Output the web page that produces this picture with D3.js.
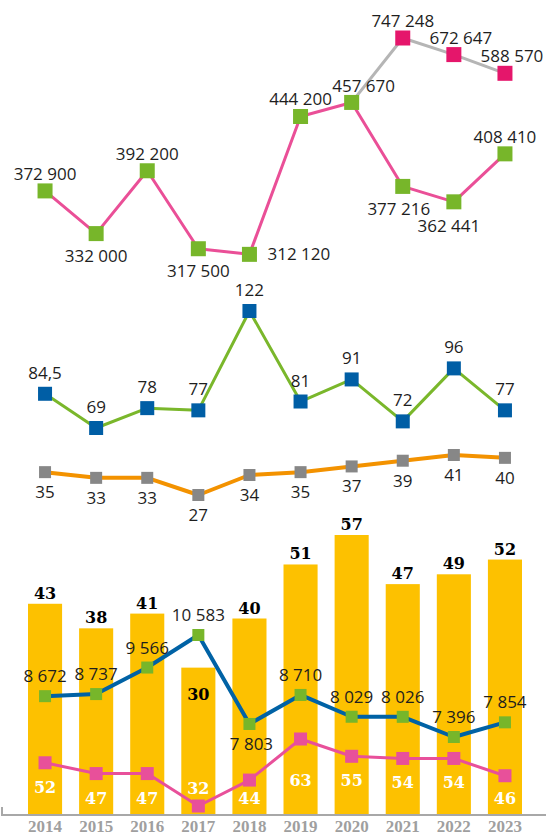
<!DOCTYPE html>
<html>
<head>
<meta charset="utf-8">
<script src="https://cdn.jsdelivr.net/npm/d3@7"></script>
<style>
  body { margin: 0; background: #fff; }
  svg { display: block; }
  .num { font-family: "Open Sans", sans-serif; font-size: 17px; fill: #1e1e1e; }
  .bold { font-family: "DejaVu Serif", serif; font-weight: bold; font-size: 16px; }
  .x-axis text { font-family: "Liberation Serif", serif; font-weight: bold; font-size: 17px; fill: #9f9f9f; }
</style>
</head>
<body>
<div id="chart"></div>
<script>
// years on the x axis
var years = ["2014", "2015", "2016", "2017", "2018", "2019", "2020", "2021", "2022", "2023"];

// top panel
var topPink = [372900, 332000, 392200, 317500, 312120, 444200, 457670, 377216, 362441, 408410];
var topGrayYears = ["2020", "2021", "2022", "2023"];
var topGray = [457670, 747248, 672647, 588570];

// middle panel
var midBlue = [84.5, 69, 78, 77, 122, 81, 91, 72, 96, 77];
var midOrange = [35, 33, 33, 27, 34, 35, 37, 39, 41, 40];

// bottom panel
var bars = [43, 38, 41, 30, 40, 51, 57, 47, 49, 52];
var botBlue = [8672, 8737, 9566, 10583, 7803, 8710, 8029, 8026, 7396, 7854];
var botPink = [52, 47, 47, 32, 44, 63, 55, 54, 54, 46];

var width = 546, height = 838;

var locale = d3.formatLocale({ decimal: ",", thousands: " ", grouping: [3], currency: ["", ""] });
var fmt = locale.format(",");

var svg = d3.select("#chart").append("svg")
    .attr("width", width)
    .attr("height", height);

// shared x scale, bars take the band, points sit in the middle
var x = d3.scaleBand()
    .domain(years)
    .range([28, 522])
    .paddingInner(0.333)
    .paddingOuter(0);
function cx(yr) { return x(yr) + x.bandwidth() / 2; }

// y scales for each series
var yTopPink = d3.scaleLinear().domain([300000, 460000]).range([267, 100]);
var yTopGray = d3.scaleLinear().domain([457670, 747248]).range([yTopPink(457670), 38]);
var yMidBlue = d3.scaleLinear().domain([69, 122]).range([428, 311]);
var yMidOrange = d3.scaleLinear().domain([27, 41]).range([495, 455]);
var yBar = d3.scaleLinear().domain([0, 57]).range([815, 535]);
var yBotBlue = d3.scaleLinear().domain([7396, 10583]).range([737, 635]);
var yBotPink = d3.scaleLinear().domain([32, 63]).range([806, 739]);

function pairs(ys, vals) {
    return ys.map(function(yr, i) { return { year: yr, value: vals[i] }; });
}

function drawLine(data, yScale, color, w) {
    var line = d3.line()
        .x(function(d) { return cx(d.year); })
        .y(function(d) { return yScale(d.value); });
    svg.append("path")
        .datum(data)
        .attr("d", line)
        .attr("fill", "none")
        .attr("stroke", color)
        .attr("stroke-width", w)
        .attr("stroke-linejoin", "round");
}

function drawMarkers(data, yScale, color, size) {
    svg.append("g").selectAll("rect")
        .data(data)
        .enter().append("rect")
        .attr("x", function(d) { return cx(d.year) - size / 2; })
        .attr("y", function(d) { return yScale(d.value) - size / 2; })
        .attr("width", size)
        .attr("height", size)
        .attr("fill", color);
}

// place: function(d, i) -> [dx, dy, anchor]
function drawLabels(data, yScale, cls, fill, place) {
    svg.append("g").selectAll("text")
        .data(data)
        .enter().append("text")
        .attr("class", cls)
        .style("fill", fill)
        .attr("x", function(d, i) { return cx(d.year) + place(d, i)[0]; })
        .attr("y", function(d, i) { return yScale(d.value) + place(d, i)[1]; })
        .attr("text-anchor", function(d, i) { return place(d, i)[2] || "middle"; })
        .text(function(d) { return fmt(d.value); });
}

// ---------- bottom panel: bars ----------
var barData = pairs(years, bars);
svg.append("g").selectAll("rect")
    .data(barData)
    .enter().append("rect")
    .attr("x", function(d) { return x(d.year); })
    .attr("y", function(d) { return yBar(d.value); })
    .attr("width", x.bandwidth())
    .attr("height", function(d) { return yBar(0) - yBar(d.value); })
    .attr("fill", "#fdc100");

// bar values, 2017 sits inside because the line crosses its top
drawLabels(barData, yBar, "bold", "#000", function(d) {
    return d.year === "2017" ? [0, 32] : [0, -5];
});

// axis
var xAxis = d3.axisBottom(x).tickSize(0).tickPadding(5);
var axisG = svg.append("g")
    .attr("class", "x-axis")
    .attr("transform", "translate(0," + yBar(0) + ")")
    .call(xAxis);
axisG.select(".domain")
    .attr("d", "M2,-8V0H" + width)
    .attr("stroke", "#a8a8a8")
    .attr("stroke-width", 2);

// blue line with green squares
var botBlueData = pairs(years, botBlue);
drawLine(botBlueData, yBotBlue, "#0062a5", 4);
drawMarkers(botBlueData, yBotBlue, "#77b62a", 12);
drawLabels(botBlueData, yBotBlue, "num", "#1e1e1e", function(d) {
    return d.year === "2018" ? [2, 26] : [0, -14];
});

// pink line with pink squares, white values inside the bars
var botPinkData = pairs(years, botPink);
drawLine(botPinkData, yBotPink, "#e8509a", 3);
drawMarkers(botPinkData, yBotPink, "#e8509a", 13);
drawLabels(botPinkData, yBotPink, "bold", "#fff", function(d) {
    var my = yBotPink(d.value);
    if (my > 800) return [0, -12];
    return [0, Math.max(786, Math.min(804, my + 30)) - my];
});

// ---------- middle panel ----------
var midBlueData = pairs(years, midBlue);
drawLine(midBlueData, yMidBlue, "#7ab72b", 3);
drawMarkers(midBlueData, yMidBlue, "#005ea5", 14);
drawLabels(midBlueData, yMidBlue, "num", "#1e1e1e", function() { return [0, -15]; });

var midOrangeData = pairs(years, midOrange);
drawLine(midOrangeData, yMidOrange, "#f39200", 4);
drawMarkers(midOrangeData, yMidOrange, "#878787", 12);
drawLabels(midOrangeData, yMidOrange, "num", "#1e1e1e", function() { return [0, 26]; });

// ---------- top panel ----------
var topGrayData = pairs(topGrayYears, topGray);
drawLine(topGrayData, yTopGray, "#b5b5b5", 3);
drawMarkers(topGrayData.slice(1), yTopGray, "#e5166b", 15);
var grayDx = { "2021": 0, "2022": 7, "2023": 7 };
drawLabels(topGrayData.slice(1), yTopGray, "num", "#1e1e1e", function(d) {
    return [grayDx[d.year], -11];
});

var topPinkData = pairs(years, topPink);
drawLine(topPinkData, yTopPink, "#ea4f97", 3);
drawMarkers(topPinkData, yTopPink, "#77b62a", 15);
var pinkPlace = {
    "2014": [0, -11], "2015": [0, 28], "2016": [0, -11], "2017": [0, 28],
    "2018": [18, 6, "start"], "2019": [0, -11], "2020": [12, -10],
    "2021": [-4, 29], "2022": [-5, 30], "2023": [0, -11]
};
drawLabels(topPinkData, yTopPink, "num", "#1e1e1e", function(d) { return pinkPlace[d.year]; });
</script>
</body>
</html>
